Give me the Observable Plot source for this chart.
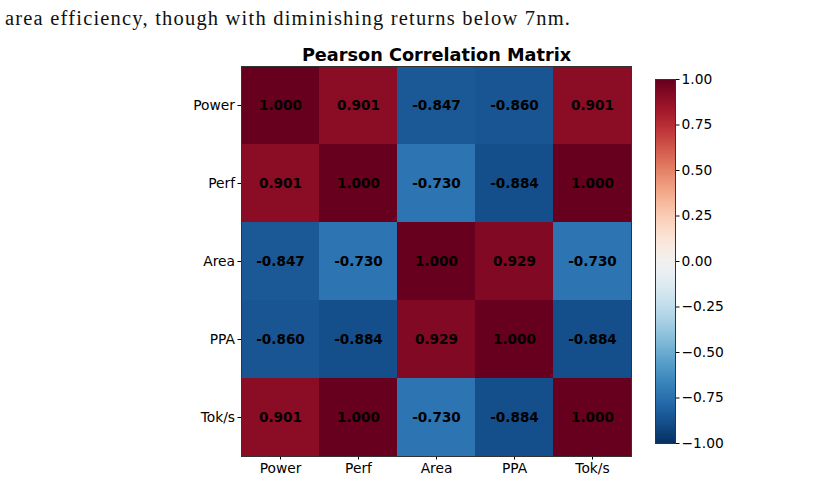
<!DOCTYPE html>
<html>
<head>
<meta charset="utf-8">
<script src="https://cdn.jsdelivr.net/npm/d3@7"></script>
<script src="https://cdn.jsdelivr.net/npm/@observablehq/plot@0.6"></script>
<style>
  html, body { margin: 0; padding: 0; background: #fff; }
  #figure { position: relative; width: 820px; height: 481px; overflow: hidden; }
  #caption {
    position: absolute; left: 5px; top: 7.5px;
    font-family: "Liberation Serif", serif; font-size: 20.5px; line-height: 20px;
    letter-spacing: 1.2px; color: #111; white-space: nowrap;
  }
  .panel { position: absolute; left: 0; top: 40px; }
  svg { font-family: "DejaVu Sans", sans-serif; }
</style>
</head>
<body>
<div id="figure">
  <div id="caption">area efficiency, though with diminishing returns below 7nm.</div>
  <div id="matrix" class="panel"></div>
  <div id="colorbar" class="panel"></div>
</div>
<script>
// Metrics compared in the matrix
const labels = ["Power", "Perf", "Area", "PPA", "Tok/s"];

// Pearson correlation coefficients, one row per metric
const powerRow = [1.000, 0.901, -0.847, -0.860, 0.901];
const perfRow  = [0.901, 1.000, -0.730, -0.884, 1.000];
const areaRow  = [-0.847, -0.730, 1.000, 0.929, -0.730];
const ppaRow   = [-0.860, -0.884, 0.929, 1.000, -0.884];
const tokRow   = [0.901, 1.000, -0.730, -0.884, 1.000];

// Colorbar tick values
const colorbarTicks = [-1, -0.75, -0.5, -0.25, 0, 0.25, 0.5, 0.75, 1];

const rows = [powerRow, perfRow, areaRow, ppaRow, tokRow];
const cells = rows.flatMap((row, i) =>
  row.map((value, j) => ({ row: labels[i], col: labels[j], value }))
);

// Diverging blue–white–red ramp over [-1, 1]
const colorScale = {
  type: "linear",
  domain: [-1, 1],
  interpolate: t => d3.interpolateRdBu(1 - t)
};

const W = 820, H = 441;

const matrix = Plot.plot({
  width: W,
  height: H,
  marginLeft: 241,
  marginRight: 189,
  marginTop: 26,
  marginBottom: 25,
  style: { fontSize: "13.8px", color: "#000", background: "transparent" },
  x: { domain: labels, padding: 0, label: null, tickSize: 3.5, tickPadding: 3 },
  y: { domain: labels, padding: 0, label: null, tickSize: 3.5, tickPadding: 3 },
  color: colorScale,
  marks: [
    Plot.cell(cells, { x: "col", y: "row", fill: "value", inset: 0, shapeRendering: "crispEdges" }),
    Plot.text(cells, {
      x: "col", y: "row",
      text: d => d.value.toFixed(3),
      fill: "black", fontWeight: "bold", fontSize: 13.6
    }),
    Plot.frame({ stroke: "#333", strokeWidth: 1 }),
    Plot.text(["Pearson Correlation Matrix"], {
      frameAnchor: "top", dy: -5.5, lineAnchor: "bottom",
      fontWeight: "bold", fontSize: 17.7, fill: "black"
    })
  ]
});
document.getElementById("matrix").appendChild(matrix);

const colorbar = Plot.plot({
  width: W,
  height: H,
  marginLeft: 655,
  marginRight: 145,
  marginTop: 39,
  marginBottom: 38,
  style: { fontSize: "13.8px", color: "#000", background: "transparent" },
  x: { domain: [0, 1], axis: null },
  y: { domain: [-1, 1], label: null },
  color: colorScale,
  marks: [
    Plot.raster({ x1: 0, x2: 1, y1: -1, y2: 1, width: 1, height: 256, fill: (x, y) => y }),
    Plot.frame({ stroke: "#333", strokeWidth: 1 }),
    Plot.axisY({
      anchor: "right", ticks: colorbarTicks, tickFormat: d3.format(".2f"),
      tickSize: 3.5, tickPadding: 2.5, label: null
    })
  ]
});
document.getElementById("colorbar").appendChild(colorbar);
</script>
</body>
</html>
